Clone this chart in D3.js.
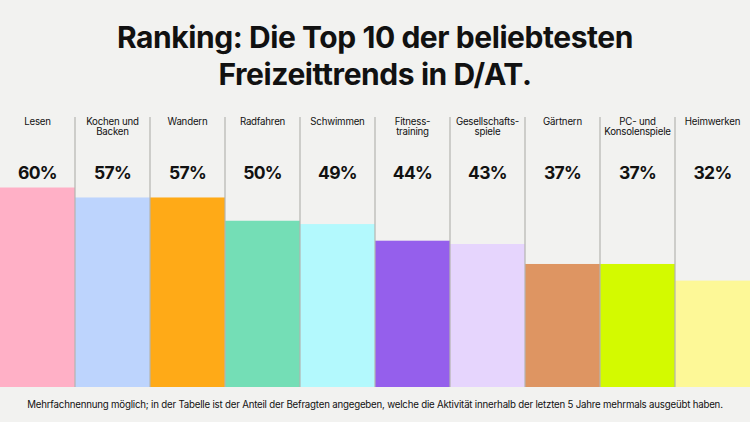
<!DOCTYPE html>
<html>
<head>
<meta charset="utf-8">
<script src="https://cdn.jsdelivr.net/npm/d3@7"></script>
<style>
  html, body { margin: 0; padding: 0; background: #f2f2f0; }
  svg { display: block; }
  text { font-family: Inter, "Noto Sans", sans-serif; fill: #111; }
</style>
</head>
<body>
<div id="chart"></div>
<script>
var categories = ['Lesen', 'Kochen und Backen', 'Wandern', 'Radfahren', 'Schwimmen', 'Fitness-training', 'Gesellschafts-spiele', 'Gärtnern', 'PC- und Konsolenspiele', 'Heimwerken'];
var categoryLines = [['Lesen'], ['Kochen und', 'Backen'], ['Wandern'], ['Radfahren'], ['Schwimmen'], ['Fitness-', 'training'], ['Gesellschafts-', 'spiele'], ['Gärtnern'], ['PC- und', 'Konsolenspiele'], ['Heimwerken']];
var values = [60, 57, 57, 50, 49, 44, 43, 37, 37, 32];
var colors = ['#ffb0c6', '#bdd4fd', '#ffaa17', '#74deb6', '#b3f9fd', '#955fec', '#e6d5fd', '#de9562', '#d3fa00', '#fdf897'];
var titleLines = ['Ranking: Die Top 10 der beliebtesten', 'Freizeittrends in D/AT.'];
var footnote = 'Mehrfachnennung möglich; in der Tabelle ist der Anteil der Befragten angegeben, welche die Aktivität innerhalb der letzten 5 Jahre mehrmals ausgeübt haben.';

var width = 750,
    height = 422,
    baseline = 387,
    dividerTop = 117;

var svg = d3.select('#chart').append('svg')
  .attr('width', width)
  .attr('height', height);

var x = d3.scaleBand().domain(categories).range([0, width]);
var y = d3.scaleLinear().domain([0, 60]).range([baseline, 187.5]);

svg.selectAll('.bar')
  .data(categories)
  .enter().append('rect')
  .attr('class', 'bar')
  .attr('x', function(d) { return x(d); })
  .attr('y', function(d, i) { return y(values[i]); })
  .attr('width', x.bandwidth())
  .attr('height', function(d, i) { return baseline - y(values[i]); })
  .attr('fill', function(d, i) { return colors[i]; });

// dividers between the columns
svg.selectAll('.divider')
  .data(categories.slice(1))
  .enter().append('line')
  .attr('class', 'divider')
  .attr('x1', function(d) { return x(d); })
  .attr('x2', function(d) { return x(d); })
  .attr('y1', dividerTop)
  .attr('y2', baseline)
  .attr('stroke', '#b4b4b0')
  .attr('stroke-width', 1.2);

svg.selectAll('.title')
  .data(titleLines)
  .enter().append('text')
  .attr('class', 'title')
  .attr('x', width / 2)
  .attr('y', function(d, i) { return 48 + i * 36.5; })
  .attr('text-anchor', 'middle')
  .attr('font-size', 30)
  .attr('font-weight', 700)
  .attr('letter-spacing', -0.43)
  .text(function(d) { return d; });

var labels = svg.selectAll('.label')
  .data(categories)
  .enter().append('text')
  .attr('class', 'label')
  .attr('text-anchor', 'middle')
  .attr('font-size', 9.7)
  .attr('letter-spacing', -0.2);

labels.selectAll('tspan')
  .data(function(d, i) {
    return categoryLines[i].map(function(line) { return { cat: d, line: line }; });
  })
  .enter().append('tspan')
  .attr('x', function(d) { return x(d.cat) + x.bandwidth() / 2; })
  .attr('y', function(d, i) { return 124.7 + i * 10; })
  .text(function(d) { return d.line; });

svg.selectAll('.value')
  .data(categories)
  .enter().append('text')
  .attr('class', 'value')
  .attr('x', function(d) { return x(d) + x.bandwidth() / 2; })
  .attr('y', 178.5)
  .attr('text-anchor', 'middle')
  .attr('font-size', 17.5)
  .attr('font-weight', 700)
  .attr('letter-spacing', -0.7)
  .text(function(d, i) { return values[i] + '%'; });

svg.append('text')
  .attr('x', width / 2)
  .attr('y', 408)
  .attr('text-anchor', 'middle')
  .attr('font-size', 9.7)
  .attr('letter-spacing', -0.2)
  .text(footnote);
</script>
</body>
</html>
